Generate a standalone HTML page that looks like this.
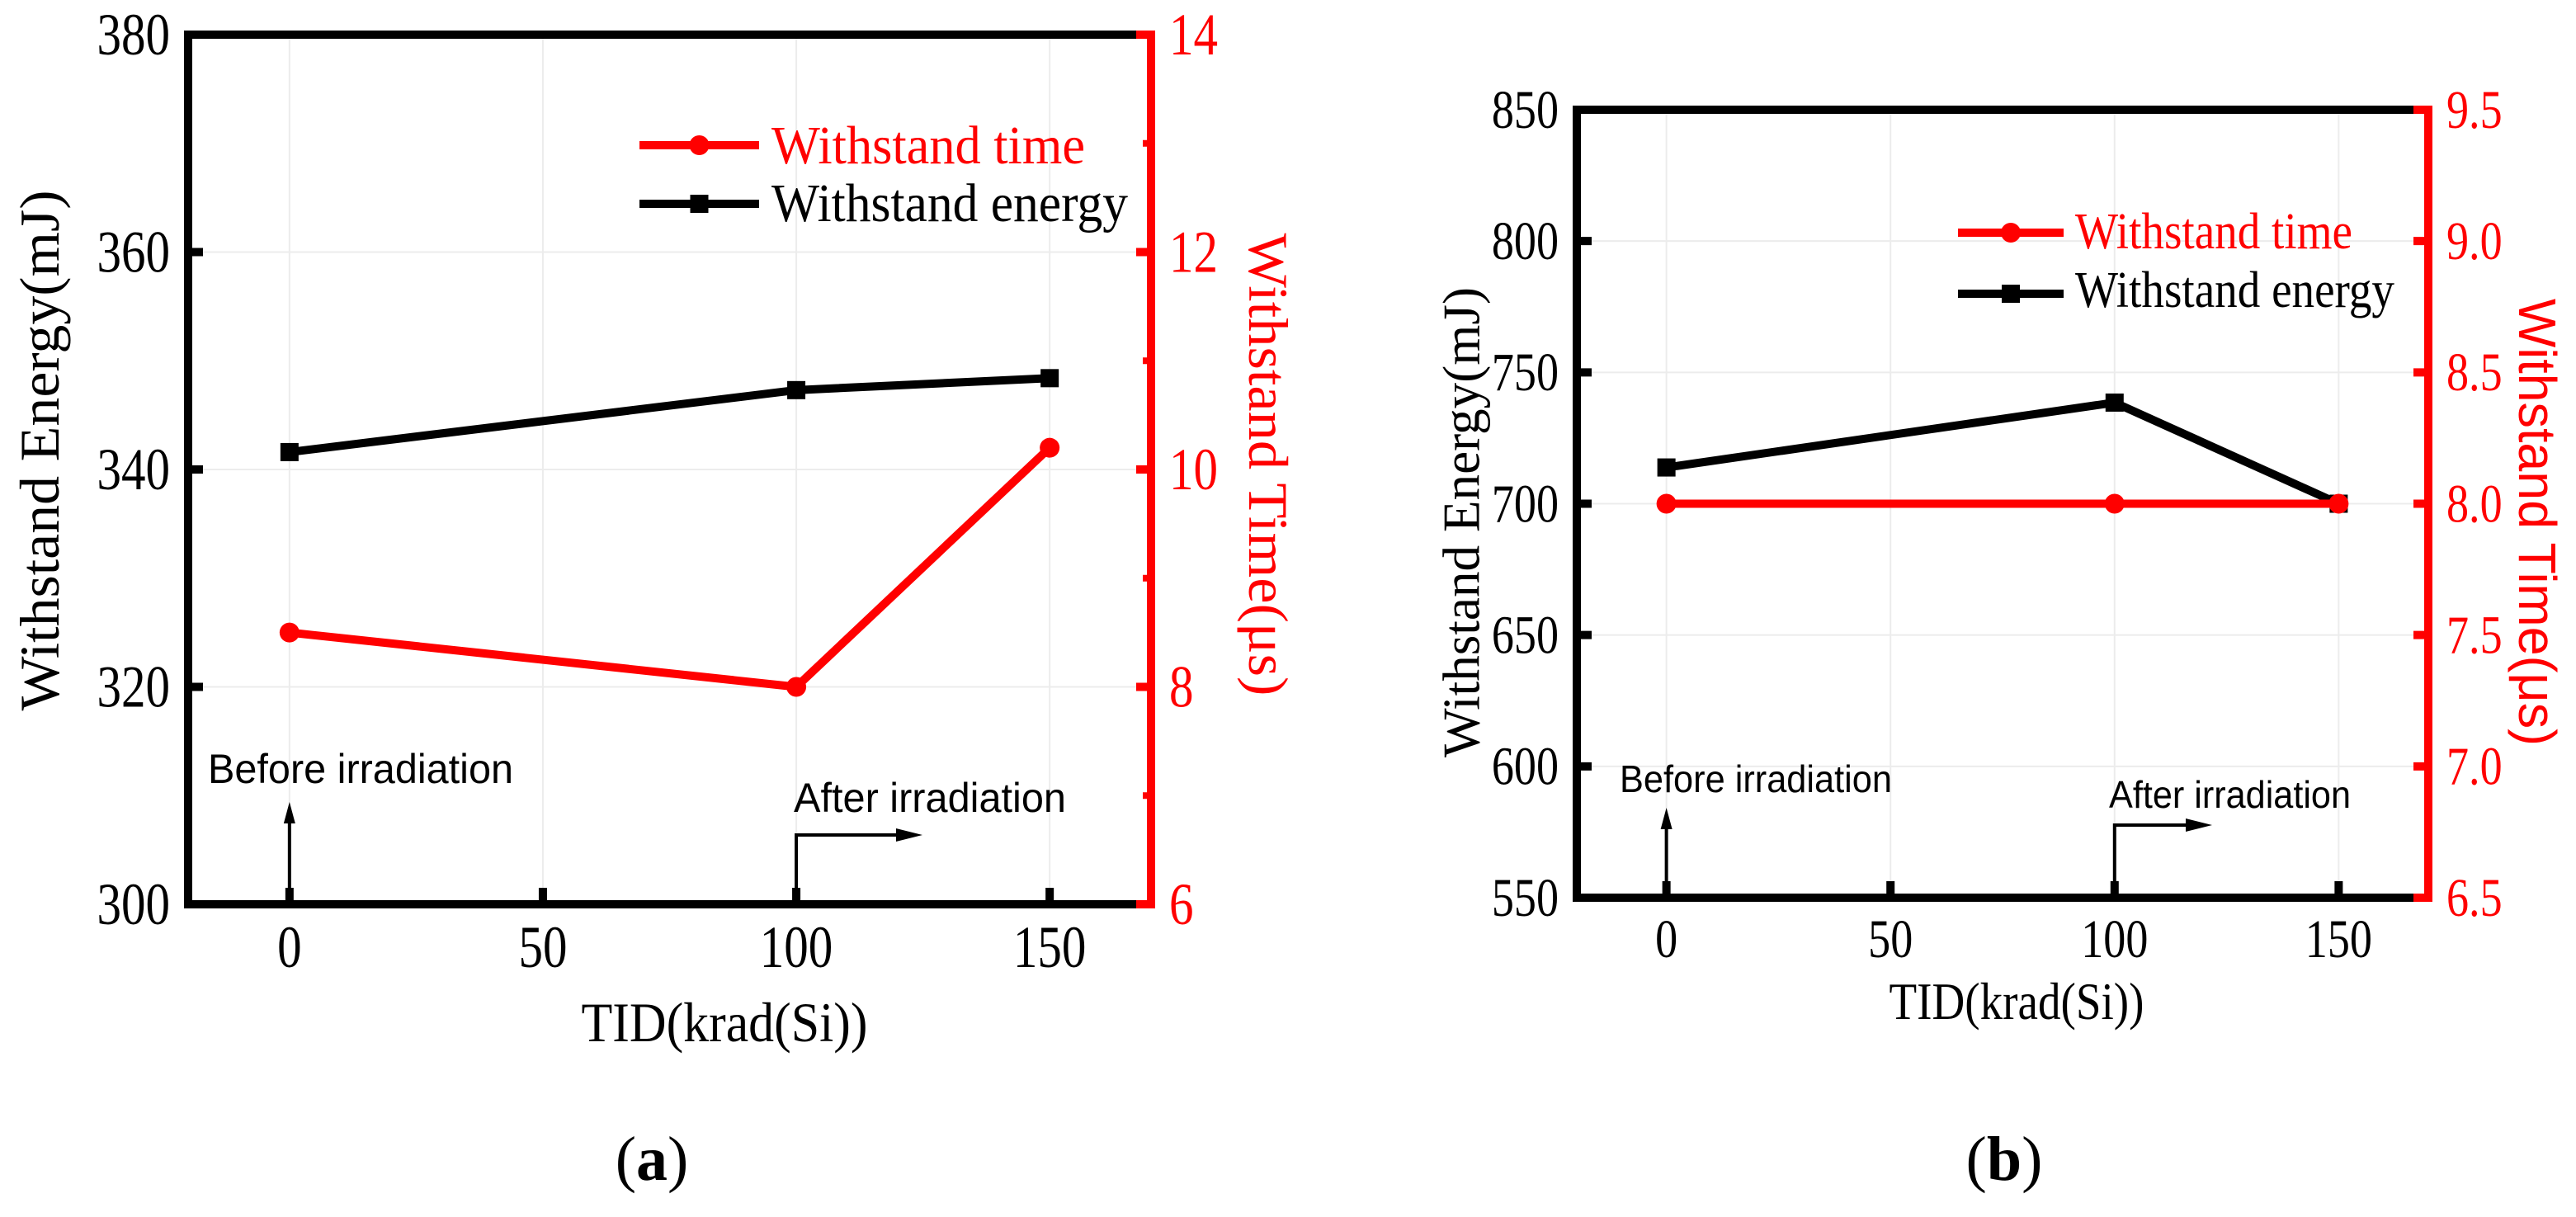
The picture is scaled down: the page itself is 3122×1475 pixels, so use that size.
<!DOCTYPE html>
<html><head><meta charset="utf-8"><style>
html,body{margin:0;padding:0;background:#fff;}
svg{display:block;}
</style></head><body>
<svg id="fig" width="3122" height="1475" viewBox="0 0 3122 1475" xmlns="http://www.w3.org/2000/svg"></svg>
<script>
const xCategories = [0, 100, 150];
const energyA = [341.6, 347.3, 348.4];
const timeA = [8.5, 8.0, 10.2];
const energyB = [713.8, 738.5, 700];
const timeB = [8.0, 8.0, 8.0];
const xTicks = [0, 50, 100, 150];
const leftTicksA = [300, 320, 340, 360, 380];
const rightTicksA = [6, 8, 10, 12, 14];
const leftTicksB = [550, 600, 650, 700, 750, 800, 850];
const rightTicksB = ["6.5","7.0","7.5","8.0","8.5","9.0","9.5"];

const NS = "http://www.w3.org/2000/svg";
const svg = document.getElementById('fig');
function el(tag, attrs, parent, txt){
  const e = document.createElementNS(NS, tag);
  for (const k in attrs) e.setAttribute(k, attrs[k]);
  if (txt !== undefined) e.textContent = txt;
  (parent || svg).appendChild(e);
  return e;
}
const SERIF = '"Liberation Serif", serif';
const SANS = '"Liberation Sans", sans-serif';

function chart(c){
  const g = el('g', {});
  
  
  const X = v => c.x0 + (v - (-20)) / 190 * (c.x1 - c.x0);
  const YL = v => c.y1 - (v - c.lmin) / (c.lmax - c.lmin) * (c.y1 - c.y0);
  const YR = v => c.y1 - (v - c.rmin) / (c.rmax - c.rmin) * (c.y1 - c.y0);
  xTicks.forEach(t => {
    const l = el('line', {x1:X(t), x2:X(t), y1:c.y0, y2:c.y1, stroke:'#ececec', 'stroke-width':2}, g);
    
    
  });
  c.lt.forEach(t => {
    const l = el('line', {x1:c.x0, x2:c.x1, y1:YL(t), y2:YL(t), stroke:'#ececec', 'stroke-width':2}, g);
    
    
  });
  const ann = el('g', {}, g);
  
  
  const bx = X(0);
  el('line', {x1:bx, x2:bx, y1:c.y1, y2:c.bArrowTop+22, stroke:'#000','stroke-width':4}, ann);
  el('polygon', {points:`${bx-7},${c.bArrowTop+26} ${bx+7},${c.bArrowTop+26} ${bx},${c.bArrowTop}`, fill:'#000'}, ann);
  const bt = el('text', {x:c.bText[0], y:c.bText[1], 'font-family':SANS, 'font-size':c.annFs, textLength:c.bText[2], lengthAdjust:'spacingAndGlyphs'}, ann, 'Before irradiation');
  
  
  const ax = X(100);
  el('polyline', {points:`${ax},${c.y1} ${ax},${c.aArrowY} ${c.aArrowEnd-28},${c.aArrowY}`, fill:'none', stroke:'#000','stroke-width':4}, ann);
  el('polygon', {points:`${c.aArrowEnd-32},${c.aArrowY-8} ${c.aArrowEnd-32},${c.aArrowY+8} ${c.aArrowEnd},${c.aArrowY}`, fill:'#000'}, ann);
  const at = el('text', {x:c.aText[0], y:c.aText[1], 'font-family':SANS, 'font-size':c.annFs, textLength:c.aText[2], lengthAdjust:'spacingAndGlyphs'}, ann, 'After irradiation');
  
  
  el('line', {x1:c.x0-5, x2:c.x1, y1:c.y0, y2:c.y0, stroke:'#000','stroke-width':10}, g);
  el('line', {x1:c.x0-5, x2:c.x1, y1:c.y1, y2:c.y1, stroke:'#000','stroke-width':10}, g);
  const la = el('line', {x1:c.x0, x2:c.x0, y1:c.y0-5, y2:c.y1+5, stroke:'#000','stroke-width':10}, g);
  
  
  const ra = el('line', {x1:c.x1, x2:c.x1, y1:c.y0-5, y2:c.y1+5, stroke:'#ff0000','stroke-width':10}, g);
  
  
  xTicks.forEach(t => {
    el('line', {x1:X(t), x2:X(t), y1:c.y1, y2:c.y1-20, stroke:'#000','stroke-width':10}, g);
    const tx = el('text', {transform:`translate(${X(t)},${c.xLabY}) scale(0.82,1)`, 'text-anchor':'middle', 'font-family':SERIF, 'font-size':c.fs}, g, String(t));
    
    
  });
  c.lt.forEach(t => {
    el('line', {x1:c.x0, x2:c.x0+18, y1:YL(t), y2:YL(t), stroke:'#000','stroke-width':10}, g);
    const tx = el('text', {transform:`translate(${c.x0-22},${YL(t)+c.fs*0.33}) scale(0.82,1)`, 'text-anchor':'end', 'font-family':SERIF, 'font-size':c.fs}, g, String(t));
    
    
  });
  c.rt.forEach(t => {
    const v = parseFloat(t);
    el('line', {x1:c.x1, x2:c.x1-18, y1:YR(v), y2:YR(v), stroke:'#ff0000','stroke-width':10}, g);
    const tx = el('text', {transform:`translate(${c.x1+22},${YR(v)+c.fs*0.33}) scale(0.82,1)`, 'font-family':SERIF, 'font-size':c.fs, fill:'#ff0000'}, g, String(t));
    
    
  });
  (c.rMinor||[]).forEach(v => {
    el('line', {x1:c.x1, x2:c.x1-10, y1:YR(v), y2:YR(v), stroke:'#ff0000','stroke-width':8}, g);
  });
  const eg = el('g', {}, g);
  
  
  el('polyline', {points:xCategories.map((x,i)=>`${X(x)},${YL(c.energy[i])}`).join(' '), fill:'none', stroke:'#000','stroke-width':10}, eg);
  xCategories.forEach((x,i)=>{
    const m = el('rect', {x:X(x)-11, y:YL(c.energy[i])-11, width:22, height:22, fill:'#000'}, eg);
    
    
  });
  const tg = el('g', {}, g);
  
  
  el('polyline', {points:xCategories.map((x,i)=>`${X(x)},${YR(c.time[i])}`).join(' '), fill:'none', stroke:'#ff0000','stroke-width':10}, tg);
  xCategories.forEach((x,i)=>{
    const m = el('circle', {cx:X(x), cy:YR(c.time[i]), r:12, fill:'#ff0000'}, tg);
    
    
  });
  const lg = el('g', {}, g);
  
  
  const L = c.leg;
  el('line', {x1:L.x0, x2:L.x1, y1:L.y1, y2:L.y1, stroke:'#ff0000','stroke-width':10}, lg);
  el('circle', {cx:(L.x0+L.x1)/2, cy:L.y1, r:12, fill:'#ff0000'}, lg);
  const l1 = el('text', {x:L.tx, y:L.b1, 'font-family':SERIF, 'font-size':c.legFs, fill:'#ff0000', textLength:L.len1, lengthAdjust:'spacingAndGlyphs'}, lg, 'Withstand time');
  
  
  el('line', {x1:L.x0, x2:L.x1, y1:L.y2, y2:L.y2, stroke:'#000','stroke-width':10}, lg);
  el('rect', {x:(L.x0+L.x1)/2-11, y:L.y2-11, width:22, height:22, fill:'#000'}, lg);
  const l2 = el('text', {x:L.tx, y:L.b2, 'font-family':SERIF, 'font-size':c.legFs, fill:'#000', textLength:L.len2, lengthAdjust:'spacingAndGlyphs'}, lg, 'Withstand energy');
  
  
  const xt = el('text', {x:c.xTitle[0]-c.xTitle[2]/2, y:c.xTitle[1], 'font-family':SERIF, 'font-size':c.titleFs, textLength:c.xTitle[2], lengthAdjust:'spacingAndGlyphs'}, g, 'TID(krad(Si))');
  
  
  const T = c.lTitle;
  const yt = el('text', {transform:`translate(${T[0]},${T[1]}) rotate(-90)`, 'text-anchor':'middle', 'font-family':SERIF, 'font-size':c.titleFs, textLength:T[2], lengthAdjust:'spacingAndGlyphs', 'dominant-baseline':'central'}, g, 'Withstand Energy(mJ)');
  
  
  const R = c.rTitle;
  const rt = el('text', {transform:`translate(${R[0]},${R[1]}) rotate(90)`, 'text-anchor':'middle', 'font-family':c.rTitleFont, 'font-size':c.titleFs, fill:'#ff0000', textLength:R[2], lengthAdjust:'spacingAndGlyphs', 'dominant-baseline':'central'}, g, 'Withstand Time(μs)');
  
  
  const pl = el('text', {x:c.panel[0], y:c.panel[1], 'text-anchor':'middle', 'font-family':SERIF, 'font-size':76}, g);
  
  
  el('tspan', {}, pl, '(');
  el('tspan', {'font-weight':'bold'}, pl, c.panelLetter);
  el('tspan', {}, pl, ')');
}

chart({name:'chart-a', x0:228, x1:1395, y0:42, y1:1096,
  lmin:300, lmax:380, rmin:6, rmax:14, lt:leftTicksA, rt:rightTicksA, rMinor:[7,9,11,13],
  energy:energyA, time:timeA, fs:72, legFs:66, titleFs:68, annFs:50,
  xLabY:1172, xTitle:[878,1262,347], lTitle:[48,546,631], rTitle:[1537,563,561], rTitleFont:SERIF,
  leg:{x0:775, x1:920, y1:176, y2:247, tx:935, b1:198, b2:268, len1:380, len2:432},
  bArrowTop:972, bText:[252,949,370], aArrowY:1012, aArrowEnd:1118, aText:[962,984,330],
  panel:[790,1430], panelLetter:'a'});

chart({name:'chart-b', x0:1911, x1:2943, y0:133, y1:1088,
  lmin:550, lmax:850, rmin:6.5, rmax:9.5, lt:leftTicksB, rt:rightTicksB, rMinor:[],
  energy:energyB, time:timeB, fs:66, legFs:62, titleFs:64, annFs:46,
  xLabY:1160, xTitle:[2444,1235,309], lTitle:[1771,633,570], rTitle:[3075,633,542], rTitleFont:SANS,
  leg:{x0:2373, x1:2501, y1:282, y2:356, tx:2515, b1:301, b2:372, len1:336, len2:387},
  bArrowTop:979, bText:[1963,960,330], aArrowY:1000, aArrowEnd:2681, aText:[2556,979,293],
  panel:[2429,1430], panelLetter:'b'});
</script>
</body></html>
